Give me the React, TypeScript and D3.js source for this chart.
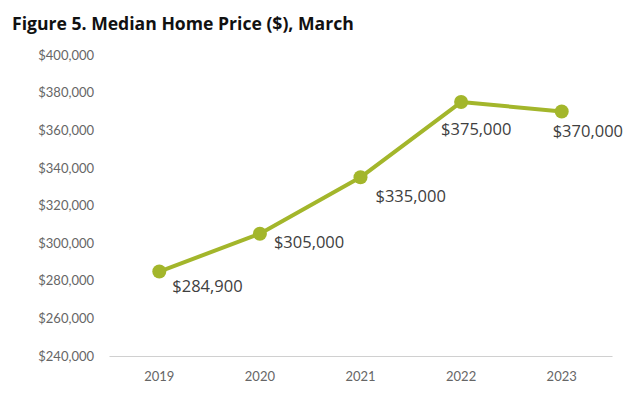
import React, { useEffect, useRef } from "react";
import * as d3 from "d3";

// values
const years = ["2019", "2020", "2021", "2022", "2023"];
const prices = [284900, 305000, 335000, 375000, 370000];
const yTicks = [240000, 260000, 280000, 300000, 320000, 340000, 360000, 380000, 400000];

// where each data label sits relative to its point (dx to the left edge, dy to the middle)
const labelOffsets: [number, number][] = [
  [13, 15],
  [14, 9],
  [15, 19],
  [-20, 27],
  [-9, 20],
];

const App = () => {
  const ref = useRef<SVGSVGElement>(null);

  useEffect(() => {
    const width = 640,
      height = 396;
    const margin = { top: 55, right: 28, bottom: 40, left: 109 };
    const green = "#a3b62b";

    const svg = d3.select(ref.current);
    svg.selectAll("*").remove();
    svg.attr("width", width).attr("height", height);

    svg
      .append("text")
      .attr("x", 12)
      .attr("y", 30)
      .attr("font-family", "'Open Sans', sans-serif")
      .attr("font-weight", "bold")
      .attr("font-size", 17.6)
      .attr("fill", "#111")
      .text("Figure 5. Median Home Price ($), March");

    let x = d3
      .scaleBand()
      .domain(years)
      .range([margin.left, width - margin.right]);

    let y = d3
      .scaleLinear()
      .domain([240000, 400000])
      .range([height - margin.bottom, margin.top]);

    const fmt = (v: number) => "$" + d3.format(",")(v);

    // y axis: labels only
    const yAxis = svg
      .append("g")
      .attr("transform", `translate(${margin.left},0)`)
      .call(d3.axisLeft(y).tickValues(yTicks).tickFormat((d: any) => fmt(d)).tickSize(0).tickPadding(15));
    yAxis.select(".domain").remove();
    yAxis
      .selectAll("text")
      .attr("font-family", "Lato, sans-serif")
      .attr("font-size", 13)
      .attr("fill", "#666");

    // x axis
    const xAxis = svg
      .append("g")
      .attr("transform", `translate(0,${height - margin.bottom})`)
      .call(d3.axisBottom(x).tickSize(0).tickPadding(16));
    xAxis.select(".domain").attr("stroke", "#d0d0d0").attr("stroke-width", 1.2);
    xAxis
      .selectAll("text")
      .attr("font-family", "Lato, sans-serif")
      .attr("font-size", 13)
      .attr("fill", "#666");

    const cx = (i: number) => (x(years[i]) as number) + x.bandwidth() / 2;

    const line = d3
      .line<number>()
      .x((d, i) => cx(i))
      .y((d) => y(d));

    svg
      .append("path")
      .datum(prices)
      .attr("d", line)
      .attr("fill", "none")
      .attr("stroke", green)
      .attr("stroke-width", 4)
      .attr("stroke-linejoin", "round");

    svg
      .selectAll("circle.pt")
      .data(prices)
      .enter()
      .append("circle")
      .attr("class", "pt")
      .attr("cx", (d, i) => cx(i))
      .attr("cy", (d) => y(d))
      .attr("r", 7)
      .attr("fill", green);

    svg
      .selectAll("text.lbl")
      .data(prices)
      .enter()
      .append("text")
      .attr("class", "lbl")
      .attr("x", (d, i) => cx(i) + labelOffsets[i][0])
      .attr("y", (d, i) => y(d) + labelOffsets[i][1])
      .attr("dy", "0.35em")
      .attr("font-family", "'Open Sans', sans-serif")
      .attr("font-size", 16.5)
      .attr("fill", "#404040")
      .text((d) => fmt(d));
  }, []);

  return <svg ref={ref} style={{ display: "block", position: "absolute", left: 0, top: 0 }} />;
};

export default App;
